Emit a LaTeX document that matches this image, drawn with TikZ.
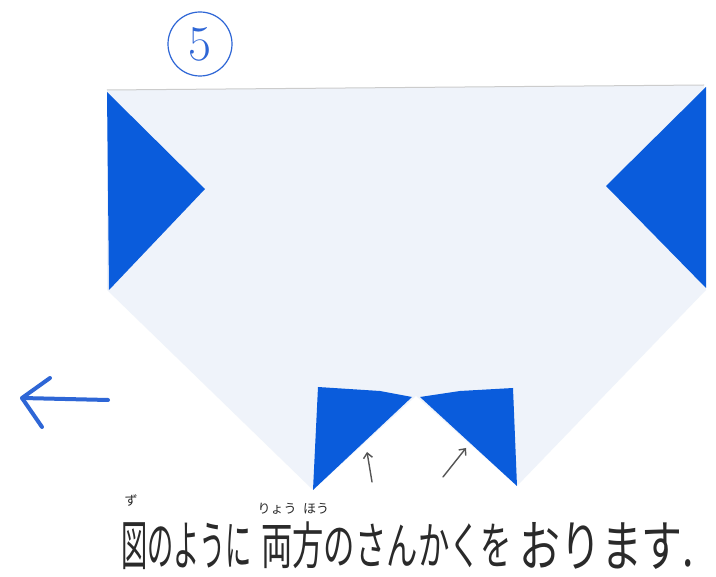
\documentclass[tikz,border=0pt]{standalone}
\usepackage{fontspec}
\usepackage{graphicx}
\newfontfamily\jp{Noto Sans CJK JP}
\usetikzlibrary{arrows.meta}
\definecolor{paper}{HTML}{EFF3FA}
\definecolor{fold}{HTML}{0A5CDC}
\definecolor{pen}{HTML}{2E66D6}
\definecolor{ink}{HTML}{2A2A2A}
\definecolor{pencil}{HTML}{555555}
\tikzset{
  bluetri/.style={fill=fold, draw=none},
  pencilarrow/.style={draw=pencil, line width=1.4pt, line cap=round, -{Straight Barb[length=5pt,width=9pt]}},
  jptext/.style={text=ink, font=\jp, inner sep=0pt, anchor=north west},
  ruby/.style={text=ink, font=\jp\fontsize{13}{13}\selectfont, inner sep=0pt, anchor=center},
}
\begin{document}
\begin{tikzpicture}[x=1pt,y=-1pt]
\path[use as bounding box, fill=white] (0,0) rectangle (716,577);
% paper
\fill[paper] (107,90) -- (704,85) -- (706,290) -- (517,486) -- (416,396) -- (313,490) -- (107,290) -- cycle;
\draw[draw=black!20, line width=1pt] (107,90) -- (704,85);
% folded triangles
\fill[bluetri] (107,92) -- (205,189) -- (109,290) -- cycle;
\fill[bluetri] (706,87) -- (606,186) -- (706,288) -- cycle;
\fill[bluetri] (318,387) -- (380,391) -- (412,397) -- (313,490) -- cycle;
\fill[bluetri] (420,397) -- (460,391) -- (513,388) -- (517,486) -- cycle;
% step number
\node[draw=pen, circle, line width=1.2pt, minimum size=64pt, inner sep=0pt, text=pen, font=\fontsize{50}{50}\selectfont] (num) at (200,44) {5};
% blue arrow
\coordinate (bt) at (108,400);
\coordinate (bh) at (22,398);
\coordinate (bu) at (50,378);
\coordinate (bd) at (42,427);
\draw[pen, line width=4pt, line cap=round, line join=round] (bt) -- (bh);
\draw[pen, line width=4pt, line cap=round, line join=round] (bu) -- (bh) -- (bd);
% small pencil arrows
\coordinate (a1t) at (372,482);
\coordinate (a1h) at (367,452);
\coordinate (a2t) at (443,477);
\coordinate (a2h) at (466,448);
\draw[pencilarrow] (a1t) -- (a1h);
\draw[pencilarrow] (a2t) -- (a2h);
% text
\node[jptext] (t1) at (121,522) {\resizebox*{131pt}{47pt}{図のように}};
\node[jptext] (t2) at (261,522) {\resizebox*{251pt}{47pt}{両方のさんかくを}};
\node[jptext] (t3) at (519,522) {\resizebox*{175pt}{47pt}{おります.}};
\node[ruby] (r1) at (131,501) {ず};
\node[ruby] (r2) at (277,509) {りょう};
\node[ruby] (r3) at (316,509) {ほう};
\end{tikzpicture}
\end{document}
